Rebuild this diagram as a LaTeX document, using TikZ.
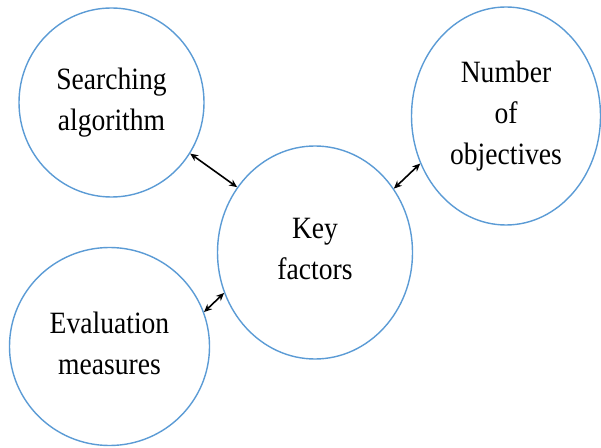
\documentclass[tikz,border=0pt]{standalone}
\usepackage{fontspec}
\setmainfont{Liberation Serif}[FakeStretch=0.89]
\usepackage{tikz}
\usetikzlibrary{arrows.meta, positioning, shapes.geometric}
\definecolor{FactorBlue}{RGB}{91,155,213}

\tikzset{
  factor/.style={ellipse, draw=FactorBlue, line width=1.4pt, inner sep=0pt, align=center,
    font=\fontsize{31}{41}\selectfont, execute at end node=\vphantom{g}},
  link/.style={{Stealth[length=8pt,width=7pt]}-{Stealth[length=8pt,width=7pt]}, line width=1.6pt}
}

\begin{document}
\begin{tikzpicture}[node distance=1cm, on grid]
\useasboundingbox (0,0) rectangle (601pt,447pt);
\node[factor, minimum width=195pt, minimum height=213pt] (key) at (315pt,194.5pt) {Key\\factors};
\node[factor, minimum width=185pt, minimum height=189pt, above left=150pt and 203.5pt of key] (search) {Searching\\algorithm};
\node[factor, minimum width=189pt, minimum height=218pt, above right=136.5pt and 191pt of key] (num) {Number\\of\\objectives};
\node[factor, minimum width=200pt, minimum height=198pt, below left=94pt and 205.5pt of key] (eval) {Evaluation\\measures};
\draw[link] (search.327) -- (key.140);
\draw[link] (num.209) -- (key.39);
\draw[link] (eval.20) -- (key.204);
\end{tikzpicture}
\end{document}
